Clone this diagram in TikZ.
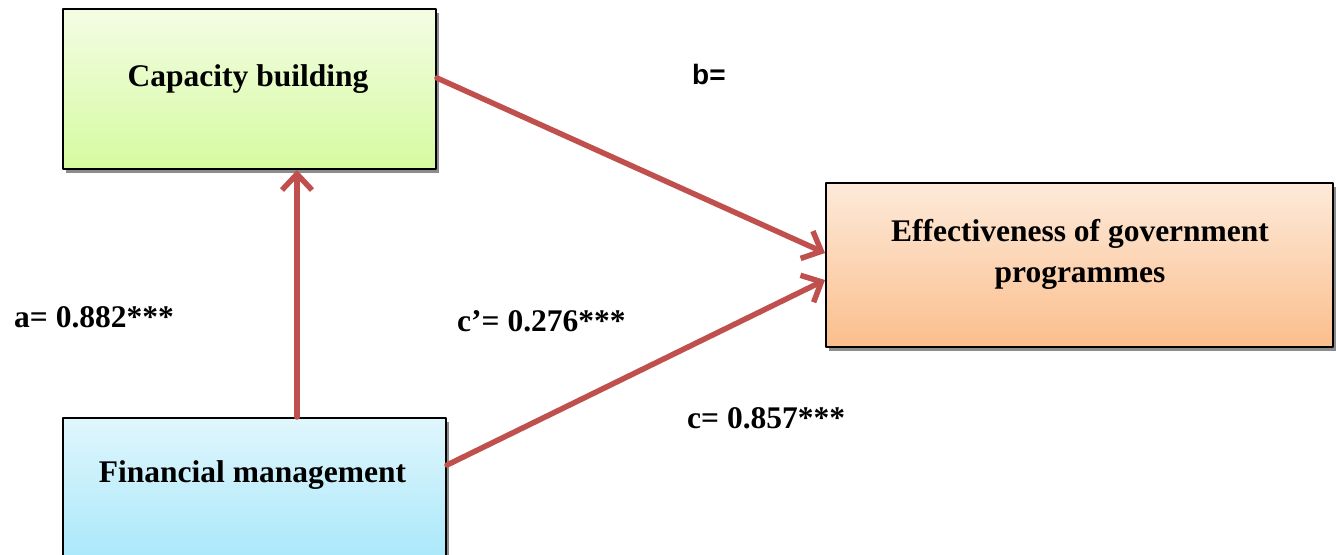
\documentclass[tikz,border=0pt]{standalone}
\usepackage{fontspec}
\setmainfont{Liberation Serif}
\newfontfamily\arialfont{Liberation Sans}
\usetikzlibrary{arrows.meta,shadows}
\definecolor{linkred}{RGB}{192,80,77}
\definecolor{greentop}{RGB}{243,253,228}
\definecolor{greenbot}{RGB}{214,250,160}
\definecolor{orangetop}{RGB}{253,234,218}
\definecolor{orangebot}{RGB}{251,190,140}
\definecolor{bluetop}{RGB}{224,246,252}
\definecolor{bluebot}{RGB}{158,229,250}
\begin{document}
\begin{tikzpicture}[x=1pt, y=-1pt, line join=round, line cap=round,
	box/.style={draw=black, line width=2pt, inner sep=0pt,
		drop shadow={shadow xshift=2.5pt, shadow yshift=-3.5pt, fill=black, opacity=0.45}},
	link/.style={draw=linkred, line width=5.5pt, -{Straight Barb[length=16pt,width=30pt]}},
	txt/.style={font=\fontsize{31.5}{41}\selectfont\bfseries, inner sep=0pt, anchor=base}]
		\useasboundingbox (0,0) rectangle (1337,554);
		\node[box, minimum width=373pt, minimum height=160pt, top color=greentop, bottom color=greenbot] (cb) at (249.5,89) {};
		\node[box, minimum width=507pt, minimum height=164pt, top color=orangetop, bottom color=orangebot] (eff) at (1079.5,265) {};
		\node[box, minimum width=383pt, minimum height=172pt, top color=bluetop, bottom color=bluebot] (fm) at (254.5,504) {};
		\node[txt] (cbt) at (248,86) {Capacity building};
		\node[txt, align=center, anchor=center] (efft) at (1080,254) {Effectiveness of government\\programmes};
		\node[txt] (fmt) at (252.5,482) {Financial management};
		\draw[link] ([xshift=42.5pt]fm.north) -- ([xshift=42.5pt]fm.north |- cb.south);
		\draw[link] ([yshift=11pt]cb.east) -- ([yshift=12pt]eff.west);
		\draw[link] ([yshift=39pt]fm.east) -- ([yshift=-15pt]eff.west);
		\foreach \n/\x/\y/\t in {la/14/327/{a= 0.882***}, lcp/457/331/{c’= 0.276***}, lc/687/428/{c= 0.857***}}
			\node[txt, anchor=base west] (\n) at (\x,\y) {\t};
		\node[font=\arialfont\fontsize{28}{32}\selectfont\bfseries, inner sep=0pt, anchor=base west] (lb) at (692,84) {b=};
\end{tikzpicture}
\end{document}
